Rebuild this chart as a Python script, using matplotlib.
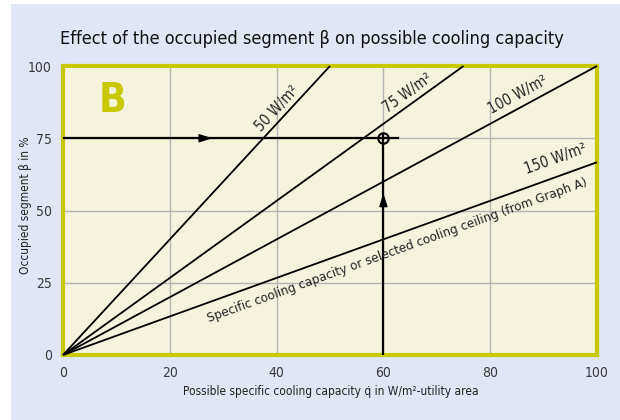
import matplotlib
matplotlib.use("Agg")
import matplotlib.pyplot as plt
from matplotlib.patches import Rectangle
import numpy as np

plt.rcParams['font.family'] = ['DejaVu Sans']
plt.rcParams['font.stretch'] = 'condensed'

# ---- data ----
capacities = [50, 75, 100, 150]
line_labels = ["50 W/m²", "75 W/m²", "100 W/m²", "150 W/m²"]
line_x_end = [50, 75, 100, 100]
line_y_end = [100, 100, 100, 66.7]
label_x = [37.5, 61.0, 80.5, 87.0]
label_y = [76.5, 83.0, 82.5, 61.5]
caption = "Specific cooling capacity or selected cooling ceiling (from Graph A)"
caption_xy = (27.5, 10.3)
x_ticks = [0, 20, 40, 60, 80, 100]
y_ticks = [0, 25, 50, 75, 100]
read_beta = 75
read_q = 60
h_line_end = 62.7
h_arrow_tip = 28
v_arrow_tip = 56

W, H = 620, 420
fig = plt.figure(figsize=(6.2, 4.2), dpi=100, facecolor='white')
fig.patches.append(Rectangle((11 / W, 0), 1 - 11 / W, 1 - 4 / H,
                             transform=fig.transFigure, facecolor='#e0e6f4',
                             edgecolor='none', zorder=-5))

ax = fig.add_axes([63 / W, (H - 355) / H, 534 / W, 289 / H])
ax.set_zorder(2)
ax.set_facecolor('#f6f3dc')
ax.set_xlim(0, 100)
ax.set_ylim(0, 100)
for s in ax.spines.values():
    s.set_color('#c9c800')
    s.set_linewidth(3)
ax.set_xticks(x_ticks)
ax.set_yticks(y_ticks)
ax.tick_params(length=0, labelsize=10, colors='#3a3a3a', pad=8)
ax.grid(True, color='#b4b4b4', linewidth=1)
ax.set_axisbelow(True)

for xe, ye in zip(line_x_end, line_y_end):
    ax.plot([0, xe], [0, ye], color='black', lw=1.3, solid_capstyle='butt',
            clip_on=False, zorder=3)

for lab, lx, ly, xe, ye in zip(line_labels, label_x, label_y, line_x_end, line_y_end):
    ang = np.degrees(np.arctan2(ye, xe))
    ax.text(lx, ly, lab, rotation=ang, transform_rotates_text=True,
            rotation_mode='anchor', ha='left', va='bottom', fontsize=10.5,
            color='#222222', zorder=4)

ang150 = np.degrees(np.arctan2(line_y_end[3], line_x_end[3]))
ax.text(caption_xy[0], caption_xy[1], caption, rotation=ang150,
        transform_rotates_text=True, rotation_mode='anchor', ha='left',
        va='bottom', fontsize=9.6, color='#222222', zorder=4)

# reading lines
ax.plot([0, h_line_end], [read_beta, read_beta], color='black', lw=1.6, zorder=3)
ax.plot([read_q, read_q], [0, read_beta + 1.5], color='black', lw=1.6, zorder=3)
head = '-|>,head_length=0.8,head_width=0.25'
ax.annotate('', xy=(h_arrow_tip, read_beta), xytext=(h_arrow_tip - 3, read_beta),
            arrowprops=dict(arrowstyle=head, color='black', lw=1.0,
                            mutation_scale=10, shrinkA=0, shrinkB=0), zorder=4)
ax.annotate('', xy=(read_q, v_arrow_tip), xytext=(read_q, v_arrow_tip - 5),
            arrowprops=dict(arrowstyle=head, color='black', lw=1.0,
                            mutation_scale=10, shrinkA=0, shrinkB=0), zorder=4)
ax.plot([read_q], [read_beta], marker='o', ms=7.5, mfc='none', mec='black',
        mew=1.5, zorder=5)

ax.text(9.2, 88, 'B', fontsize=29, fontweight='bold', color='#c9c800',
        ha='center', va='center')

fig.text(60 / W, 1 - 38.5 / H, 'Effect of the occupied segment β on possible cooling capacity',
         fontsize=13, ha='left', va='center', color='#111111')
fig.text(331 / W, 1 - 391 / H, 'Possible specific cooling capacity q\u0307 in W/m²-utility area',
         fontsize=8.6, ha='center', va='center', color='#222222')
fig.text(26 / W, 1 - 205 / H, 'Occupied segment β in %', rotation=90,
         fontsize=8.6, ha='center', va='center', color='#222222')

fig.savefig('out.png', dpi=100, facecolor='white')
